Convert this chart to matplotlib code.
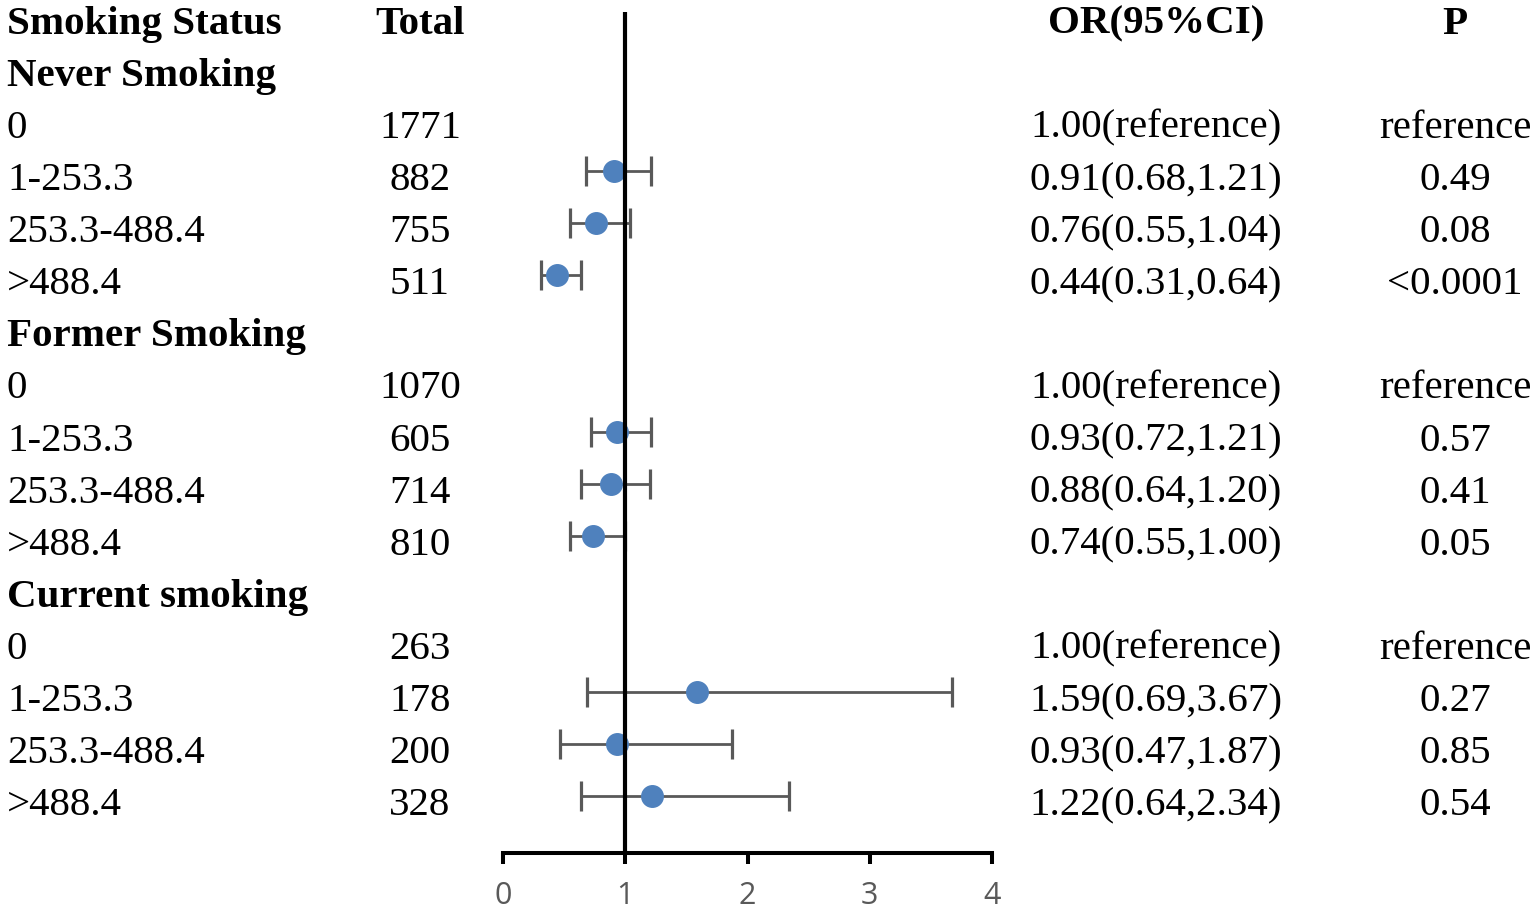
import matplotlib
matplotlib.use("Agg")
import matplotlib.pyplot as plt
import matplotlib.transforms as mtransforms
import numpy as np

# ---------------- data ----------------
header = ["Smoking Status", "Total", "OR(95%CI)", "P"]
groups = ["Never Smoking", "Former Smoking", "Current smoking"]
levels = ["0", "1-253.3", "253.3-488.4", ">488.4"]
totals = [[1771, 882, 755, 511],
          [1070, 605, 714, 810],
          [263, 178, 200, 328]]
or_vals = [[1.00, 0.91, 0.76, 0.44],
           [1.00, 0.93, 0.88, 0.74],
           [1.00, 1.59, 0.93, 1.22]]
ci_low = [[None, 0.68, 0.55, 0.31],
          [None, 0.72, 0.64, 0.55],
          [None, 0.69, 0.47, 0.64]]
ci_high = [[None, 1.21, 1.04, 0.64],
           [None, 1.21, 1.20, 1.00],
           [None, 3.67, 1.87, 2.34]]
p_vals = [["reference", "0.49", "0.08", "<0.0001"],
          ["reference", "0.57", "0.41", "0.05"],
          ["reference", "0.27", "0.85", "0.54"]]
x_ticks = [0, 1, 2, 3, 4]

# ---------------- figure ----------------
W, H = 1536, 914
fig = plt.figure(figsize=(W / 100, H / 100), dpi=100)
ax_left, ax_right = 503, 992
ax_top, ax_bot = 12, 853
ax = fig.add_axes([ax_left / W, 1 - ax_bot / H, (ax_right - ax_left) / W, (ax_bot - ax_top) / H])

row_h = 52.1
first_px = 14.7  # marker centre pixel of row 0
ax.set_ylim((ax_bot - first_px) / row_h, (ax_top - first_px) / row_h)
ax.set_xlim(x_ticks[0], x_ticks[-1])

serif = "Liberation Serif"
fs = 29.5
txt_tr = mtransforms.offset_copy(
    mtransforms.blended_transform_factory(fig.transFigure, ax.transData),
    fig=fig, x=0, y=-19, units="dots")

col_x = {"label": 7 / W, "total": 420 / W, "or": 1156 / W, "p": 1455 / W}

def put(x, y, s, ha, bold=False):
    ax.text(x, y, s, transform=txt_tr, ha=ha, va="baseline", fontsize=fs,
            family=serif, fontweight="bold" if bold else "normal", color="black",
            clip_on=False)

# header row
put(col_x["label"], 0, header[0], "left", True)
put(col_x["total"], 0, header[1], "center", True)
put(col_x["or"], 0, header[2], "center", True)
put(col_x["p"], 0, header[3], "center", True)

row = 1
pts_y, pts_x, err_lo, err_hi = [], [], [], []
for g in range(len(groups)):
    put(col_x["label"], row, groups[g], "left", True)
    row += 1
    for k in range(len(levels)):
        put(col_x["label"], row, levels[k], "left")
        put(col_x["total"], row, str(totals[g][k]), "center")
        if ci_low[g][k] is None:
            put(col_x["or"], row, f"{or_vals[g][k]:.2f}(reference)", "center")
        else:
            put(col_x["or"], row, f"{or_vals[g][k]:.2f}({ci_low[g][k]:.2f},{ci_high[g][k]:.2f})", "center")
            pts_y.append(row)
            pts_x.append(or_vals[g][k])
            err_lo.append(or_vals[g][k] - ci_low[g][k])
            err_hi.append(ci_high[g][k] - or_vals[g][k])
        put(col_x["p"], row, p_vals[g][k], "center")
        row += 1

ax.errorbar(pts_x, pts_y, xerr=[err_lo, err_hi], fmt="o", color="#4F81BD",
            ecolor="#595959", elinewidth=2.0, capsize=10.5, capthick=2.3,
            markersize=15.5, zorder=3)
ax.axvline(1, color="black", lw=3.0, zorder=5)

for side in ["top", "right", "left"]:
    ax.spines[side].set_visible(False)
ax.spines["bottom"].set_linewidth(2.9)
ax.spines["bottom"].set_color("black")
ax.spines["bottom"].set_capstyle("projecting")
ax.set_yticks([])
ax.set_xticks(x_ticks)
ax.set_xticklabels([str(t) for t in x_ticks], fontsize=22, family=["Open Sans", "DejaVu Sans"],
                   color="#595959", fontweight="medium")
ax.tick_params(axis="x", direction="out", length=8, width=2.9, color="black", pad=12)
ax.patch.set_alpha(0)

fig.savefig("out.png", dpi=100)
